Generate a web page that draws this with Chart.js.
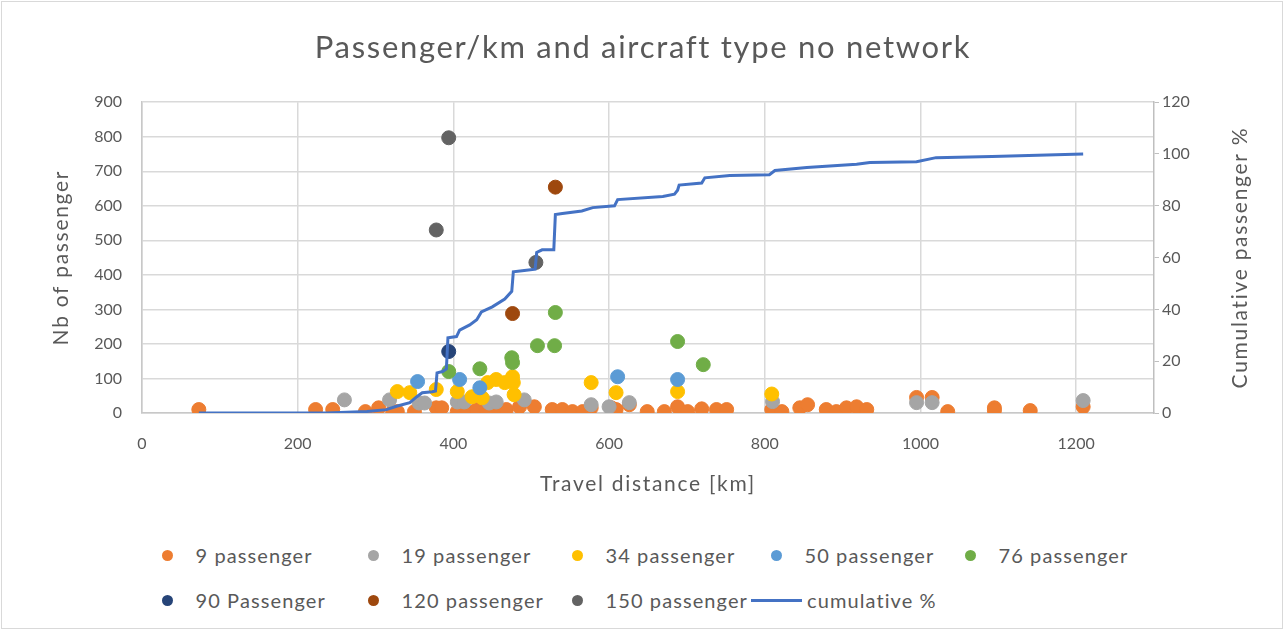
<!DOCTYPE html>
<html lang="en">
<head>
<meta charset="UTF-8">
<title>Passenger/km and aircraft type no network</title>
<script src="https://cdn.jsdelivr.net/npm/chart.js"></script>
<style>
  body { margin: 0; background: #fff; font-family: Lato, sans-serif; }
  #wrap { position: relative; width: 1286px; height: 631px; overflow: hidden; }
  #frame { position: absolute; left: 1px; top: 1px; width: 1280px; height: 626px; border: 1px solid #d9d9d9; }
  #chart-box { position: absolute; left: 0; top: 0; width: 1286px; height: 520px; }
  .item { position: absolute; display: flex; align-items: center; color: #595959; font-size: 20px; letter-spacing: 1.1px; white-space: nowrap; transform: translateY(-50%); }
  .dot { width: 11px; height: 11px; border-radius: 50%; margin-right: 23px; }
  .swatch { width: 51px; height: 3px; margin-right: 5px; }
</style>
</head>
<body>
<div id="wrap">
  <div id="frame"></div>
  <div id="chart-box"><canvas id="chart"></canvas></div>
  <div id="legend"></div>
</div>
<script>
// travel distance [km] / number of passengers, one pair of arrays per aircraft size
const km9  = [73, 223, 245, 287, 304, 322, 328, 350, 378, 385, 405, 418, 430, 442, 455, 468, 485, 504, 527, 540, 553, 566, 577, 603, 609, 626, 649, 671, 688, 701, 719, 738, 751, 809, 822, 845, 855, 879, 892, 905, 918, 931, 995, 1015, 1035, 1095, 1095, 1141, 1209];
const pax9 = [10, 10, 10, 4, 15, 4, 4, 4, 15, 15, 4, 4, 10, 10, 4, 10, 18, 18, 10, 10, 4, 4, 15, 15, 10, 24, 4, 4, 18, 4, 12, 10, 10, 10, 4, 15, 24, 10, 4, 15, 18, 10, 45, 45, 4, 15, 7, 7, 18];
const km19  = [260, 318, 356, 363, 405, 414, 446, 455, 491, 577, 600, 626, 810, 995, 1015, 1209];
const pax19 = [38, 38, 29, 29, 32, 32, 29, 32, 38, 24, 18, 30, 33, 30, 30, 36];
const km34  = [328, 344, 378, 405, 424, 437, 444, 455, 466, 476, 477, 478, 577, 609, 688, 809];
const pax34 = [62, 59, 68, 62, 47, 44, 88, 97, 88, 105, 88, 53, 88, 59, 62, 55];
const km50  = [354, 408, 434, 611, 688];
const pax50 = [91, 97, 73, 105, 97];
const km76  = [394, 434, 475, 476, 508, 530, 531, 688, 721];
const pax76 = [120, 128, 160, 146, 195, 195, 291, 207, 140];
const km90  = [394];
const pax90 = [178];
const km120  = [476, 531];
const pax120 = [288, 654];
const km150  = [378, 394, 506];
const pax150 = [530, 797, 436];

// cumulative share of passengers [%]
const cumKm  = [73, 237, 289, 314, 327, 344, 353, 360, 373, 377, 379, 386, 391, 393, 404, 408, 421, 430, 436, 450, 466, 475, 477, 491, 505, 507, 514, 529, 531, 540, 565, 579, 607, 611, 669, 684, 688, 690, 719, 723, 755, 806, 813, 854, 918, 935, 995, 1020, 1092, 1209];
const cumPct = [0, 0, 0.6, 1.3, 2.6, 4, 6.3, 7.8, 8.2, 8.5, 15.5, 16, 17, 29, 29.5, 32, 34, 36, 39, 41, 44, 47, 54.5, 55, 55.5, 62, 63, 63, 76.6, 77, 78, 79.3, 80, 82.4, 83.6, 84.5, 86, 88, 88.8, 90.8, 91.7, 92, 93.6, 94.8, 96, 96.7, 97, 98.6, 99, 100];

const seriesNames = ['9 passenger', '19 passenger', '34 passenger', '50 passenger', '76 passenger', '90 Passenger', '120 passenger', '150 passenger'];
const seriesKm  = [km9, km19, km34, km50, km76, km90, km120, km150];
const seriesPax = [pax9, pax19, pax34, pax50, pax76, pax90, pax120, pax150];
const seriesColors = ['#ED7D31', '#A5A5A5', '#FFC000', '#5B9BD5', '#70AD47', '#264478', '#9E480E', '#636363'];
const lineColor = '#4472C4';
const textColor = '#595959';
const gridColor = '#d9d9d9';
const titleSpacing = '1.7px';

function pts(xs, ys) {
    return xs.map((x, i) => ({ x: x, y: ys[i] }));
}

const datasets = seriesNames.map((name, i) => ({
    label: name,
    data: pts(seriesKm[i], seriesPax[i]),
    backgroundColor: seriesColors[i],
    borderColor: seriesColors[i],
    pointRadius: 7,
    pointHoverRadius: 7,
    order: 20 - i,   // later series on top, like Excel
    yAxisID: 'y'
}));
datasets.push({
    label: 'cumulative %',
    data: pts(cumKm, cumPct),
    showLine: true,
    borderColor: lineColor,
    backgroundColor: lineColor,
    borderWidth: 3,
    pointRadius: 0,
    tension: 0,
    order: 1,
    yAxisID: 'y1'
});

// titles get the wide Excel letter spacing, tick labels (drawn after the datasets) do not
const spacing = {
    id: 'spacing',
    beforeDraw(chart) { chart.ctx.letterSpacing = titleSpacing; },
    beforeDatasetsDraw(chart) { chart.ctx.letterSpacing = '0px'; }
};

// right axis title reads bottom-to-top in the original
const rightTitle = {
    id: 'rightTitle',
    afterDraw(chart) {
        const { ctx, chartArea } = chart;
        ctx.save();
        ctx.letterSpacing = titleSpacing;
        ctx.translate(1240, (chartArea.top + chartArea.bottom) / 2);
        ctx.rotate(-Math.PI / 2);
        ctx.font = '21px Lato';
        ctx.fillStyle = textColor;
        ctx.textAlign = 'center';
        ctx.textBaseline = 'middle';
        ctx.fillText('Cumulative passenger %', 0, 0);
        ctx.restore();
    }
};

const tickFont = { family: 'Lato', size: 16 };
const axisTitleFont = { family: 'Lato', size: 21 };

new Chart(document.getElementById('chart'), {
    type: 'scatter',
    data: { datasets: datasets },
    plugins: [spacing, rightTitle],
    options: {
        responsive: true,
        maintainAspectRatio: false,
        animation: false,
        layout: { padding: { left: 0, right: 0, top: 0, bottom: 10 } },
        plugins: {
            legend: { display: false },
            tooltip: { enabled: false },
            title: {
                display: true,
                text: 'Passenger/km and aircraft type no network',
                color: textColor,
                font: { family: 'Lato', size: 31, weight: 'normal' },
                padding: { top: 29, bottom: 36 }
            }
        },
        scales: {
            x: {
                type: 'linear',
                min: 0,
                max: 1300,
                ticks: { stepSize: 200, includeBounds: false, color: textColor, font: tickFont, padding: 21, z: 1, callback: v => String(v) },
                grid: { color: gridColor, lineWidth: 1.5, drawTicks: false },
                border: { color: '#c8c8c8', width: 1.5 },
                title: { display: true, text: 'Travel distance [km]', color: textColor, font: axisTitleFont, padding: { top: 0, bottom: 13 } },
                afterFit: s => { s.height = 97; }
            },
            y: {
                position: 'left',
                min: 0,
                max: 900,
                ticks: { stepSize: 100, color: textColor, font: tickFont, padding: 20, z: 1 },
                grid: { color: gridColor, lineWidth: 1.5, drawTicks: false },
                border: { color: '#c8c8c8', width: 1.5 },
                title: { display: true, text: 'Nb of passenger', color: textColor, font: axisTitleFont, padding: { top: 49, bottom: 0 } },
                afterFit: s => { s.width = 142; }
            },
            y1: {
                position: 'right',
                min: 0,
                max: 120,
                ticks: { stepSize: 20, color: textColor, font: tickFont, padding: 3, z: 1 },
                grid: { drawOnChartArea: false, color: '#bfbfbf', tickLength: 5 },
                border: { color: '#bfbfbf', width: 1.5 },
                afterFit: s => { s.width = 132; }
            }
        }
    }
});

// legend laid out in Excel's column grid
const legendSlots = [[167, 555], [373, 555], [577, 555], [776, 555], [970, 555], [167, 600], [373, 600], [577, 600], [751, 600]];
const legend = document.getElementById('legend');
datasets.forEach((ds, i) => {
    const item = document.createElement('div');
    item.className = 'item';
    const mark = document.createElement('span');
    if (ds.showLine) {
        mark.className = 'swatch';
        mark.style.background = ds.borderColor;
        item.style.left = legendSlots[i][0] + 'px';
    } else {
        mark.className = 'dot';
        mark.style.background = ds.backgroundColor;
        item.style.left = (legendSlots[i][0] - 5.5) + 'px';
    }
    item.style.top = legendSlots[i][1] + 'px';
    const label = document.createElement('span');
    label.textContent = ds.label;
    item.appendChild(mark);
    item.appendChild(label);
    legend.appendChild(item);
});
</script>
</body>
</html>
